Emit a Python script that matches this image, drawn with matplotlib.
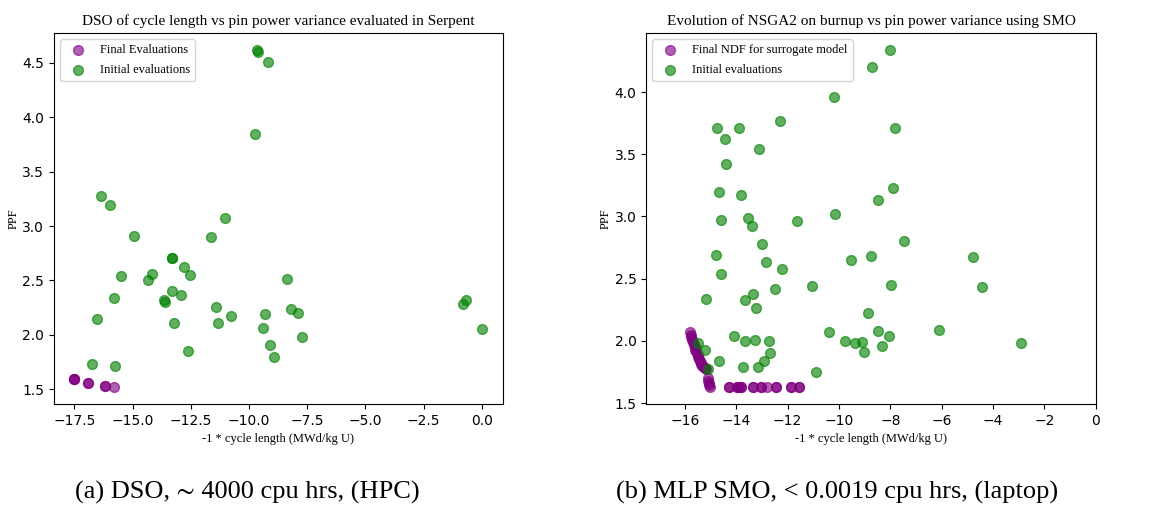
import matplotlib.pyplot as plt

# (a) DSO evaluated in Serpent
dso_init_x = [-9.65, -9.60, -9.20, -9.76, -16.35, -15.98, -14.95, -11.65, -11.04,
              -13.30, -13.30, -12.81, -12.54, -14.15, -14.33, -15.51, -13.29, -12.91,
              -13.64, -13.59, -15.81, -16.52, -13.23, -11.40, -11.35, -10.76, -12.61,
              -16.73, -15.74, -8.39, -9.30, -9.39, -8.18, -7.88, -7.73, -9.10, -8.93,
              -0.81, -0.68, 0.01]
dso_init_y = [4.62, 4.60, 4.51, 3.85, 3.28, 3.19, 2.91, 2.90, 3.07,
              2.71, 2.71, 2.62, 2.55, 2.56, 2.50, 2.54, 2.40, 2.37,
              2.32, 2.30, 2.34, 2.15, 2.11, 2.26, 2.11, 2.17, 1.85,
              1.73, 1.71, 2.51, 2.19, 2.06, 2.24, 2.20, 1.98, 1.91, 1.80,
              2.28, 2.32, 2.05]
dso_final_x = [-17.50, -17.50, -17.50, -16.93, -16.93, -16.20, -16.20, -15.81]
dso_final_y = [1.59, 1.59, 1.59, 1.56, 1.56, 1.53, 1.53, 1.52]

# (b) NSGA2 on MLP surrogate
smo_init_x = [-8.02, -8.72, -10.19, -12.28, -7.81, -14.76, -13.89, -14.43, -13.12,
              -14.38, -14.68, -13.81, -7.88, -8.47, -14.57, -13.53, -13.38, -11.63,
              -10.15, -12.98, -7.46, -14.78, -14.60, -12.83, -12.21, -12.50, -13.36,
              -13.64, -13.22, -15.19, -11.04, -9.54, -8.76, -7.99, -4.80, -4.42,
              -8.88, -6.10, -2.90, -10.38, -9.76, -9.37, -9.12, -9.03, -8.47, -8.05,
              -8.31, -10.91, -14.10, -13.66, -13.25, -12.72, -12.68, -12.90, -13.13,
              -13.72, -14.67, -15.20, -15.48, -15.09]
smo_init_y = [4.34, 4.20, 3.96, 3.77, 3.71, 3.71, 3.71, 3.62, 3.54,
              3.42, 3.20, 3.17, 3.23, 3.13, 2.97, 2.99, 2.92, 2.96,
              3.02, 2.78, 2.80, 2.69, 2.54, 2.63, 2.58, 2.42, 2.38,
              2.33, 2.26, 2.34, 2.44, 2.65, 2.68, 2.45, 2.67, 2.43,
              2.22, 2.09, 1.98, 2.07, 2.00, 1.98, 1.99, 1.91, 2.08, 2.04,
              1.96, 1.75, 2.04, 2.00, 2.01, 2.00, 1.90, 1.84, 1.79,
              1.79, 1.84, 1.93, 1.98, 1.77]
smo_final_x = [-15.80, -15.77, -15.74, -15.71, -15.68, -15.65, -15.62, -15.59, -15.56,
               -15.53, -15.50, -15.47, -15.44, -15.41, -15.38, -15.35, -15.31, -15.27,
               -15.23, -15.19, -15.10, -15.09, -15.07, -15.05, -15.03,
               -14.27, -14.27, -13.97, -13.97, -13.88, -13.80, -13.80, -13.34, -13.34,
               -13.04, -13.04, -12.81, -12.43, -12.43, -11.88, -11.88, -11.55, -11.55]
smo_final_y = [2.07, 2.05, 2.03, 2.01, 1.99, 1.97, 1.95, 1.93, 1.915,
               1.90, 1.885, 1.87, 1.855, 1.84, 1.825, 1.81, 1.80, 1.79,
               1.78, 1.77, 1.70, 1.68, 1.66, 1.645, 1.63,
               1.628, 1.628, 1.628, 1.628, 1.628, 1.628, 1.628, 1.628, 1.628,
               1.628, 1.628, 1.628, 1.628, 1.628, 1.628, 1.628, 1.628, 1.628]

serif = ['Liberation Serif', 'STIXGeneral']
plt.rcParams['xtick.labelsize'] = 10
plt.rcParams['ytick.labelsize'] = 10

fig = plt.figure(figsize=(11.56, 5.07), dpi=100)
ax1 = fig.add_axes([0.0467, 0.2032, 0.388, 0.732])
ax2 = fig.add_axes([0.559, 0.2032, 0.389, 0.732])

ax1.scatter(dso_final_x, dso_final_y, s=50, color='purple', alpha=0.62, label='Final Evaluations')
ax1.scatter(dso_init_x, dso_init_y, s=50, color='green', alpha=0.62, label='Initial evaluations')
ax1.set_title('DSO of cycle length vs pin power variance evaluated in Serpent', family=serif, fontsize=11)
ax1.set_xlabel('-1 * cycle length (MWd/kg U)', family=serif, fontsize=9)
ax1.set_ylabel('PPF', family=serif, fontsize=9, labelpad=2)
ax1.legend(loc='upper left', prop={'family': serif, 'size': 9}, labelspacing=0.65)

ax2.scatter(smo_final_x, smo_final_y, s=50, color='purple', alpha=0.62, label='Final NDF for surrogate model')
ax2.scatter(smo_init_x, smo_init_y, s=50, color='green', alpha=0.62, label='Initial evaluations')
ax2.set_xlim(-17.5, 0)
ax2.set_title('Evolution of NSGA2 on burnup vs pin power variance using SMO', family=serif, fontsize=11)
ax2.set_xlabel('-1 * cycle length (MWd/kg U)', family=serif, fontsize=9)
ax2.set_ylabel('PPF', family=serif, fontsize=9, labelpad=2)
ax2.legend(loc='upper left', prop={'family': serif, 'size': 9}, labelspacing=0.65)

fig.text(247 / 1156, 1 - 492 / 507, '(a) DSO, \u223c 4000 cpu hrs, (HPC)', family=serif,
         fontsize=19, ha='center', va='center')
fig.text(837 / 1156, 1 - 492 / 507, '(b) MLP SMO, < 0.0019 cpu hrs, (laptop)', family=serif,
         fontsize=19, ha='center', va='center')

fig.savefig('out.png', dpi=100)
